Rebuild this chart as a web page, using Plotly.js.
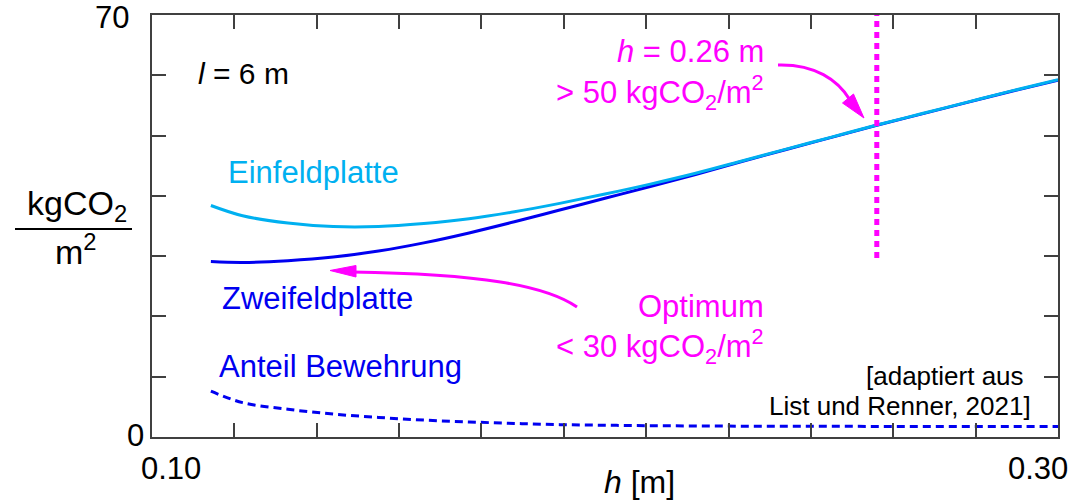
<!DOCTYPE html>
<html>
<head>
<meta charset="utf-8">
<script src="https://cdn.plot.ly/plotly-3.0.1.min.js"></script>
<style>html,body{margin:0;padding:0;background:#fff;}#chart{width:1086px;height:501px;}</style>
</head>
<body>
<div id="chart"></div>
<script>
// ---- data ----
const h = [0.113, 0.12, 0.13, 0.14, 0.15, 0.16, 0.17, 0.18, 0.19, 0.20, 0.21, 0.22, 0.23, 0.24, 0.25, 0.26, 0.27, 0.28, 0.29, 0.30];
const einfeldplatte = [38.4, 36.7, 35.5, 34.9, 34.9, 35.4, 36.2, 37.35, 38.75, 40.3, 41.95, 43.75, 45.75, 47.75, 49.75, 51.75, 53.65, 55.55, 57.45, 59.25];
const zweifeldplatte = [29.1, 28.95, 29.25, 29.85, 30.85, 32.2, 33.85, 35.7, 37.65, 39.6, 41.55, 43.55, 45.65, 47.7, 49.7, 51.7, 53.6, 55.5, 57.4, 59.2];
const anteilBewehrung = [7.6, 5.7, 4.6, 3.8, 3.25, 2.8, 2.5, 2.25, 2.05, 1.95, 1.88, 1.83, 1.8, 1.78, 1.77, 1.76, 1.75, 1.75, 1.75, 1.75];
const markerH = [0.26, 0.26];
const markerY = [29.7, 70];
const xRange = [0.10, 0.30];
const yRange = [0, 70];
const xTickIntervals = 11;
const yTickStep = 10;
const xTickText = ["0.10", "0.30"];
const yTickText = ["0", "70"];

// ---- layout helpers (pixel -> paper) ----
const W = 1086, H = 501, L = 152, R = 1058, T = 15, B = 437;
const px = v => (v - L) / (R - L);
const py = v => (B - v) / (B - T);

const xTicks = [];
for (let k = 1; k < xTickIntervals; k++) xTicks.push(xRange[0] + k * (xRange[1] - xRange[0]) / xTickIntervals);
const yTicks = [];
for (let v = yRange[0]; v <= yRange[1]; v += yTickStep) yTicks.push(v);

const FONT = "Liberation Sans, Arial, sans-serif";
const MAG = "#FF00FF", LBLUE = "#00B0F0", DBLUE = "#0000F0";

const traces = [
  {x: h, y: zweifeldplatte, mode: "lines", line: {color: DBLUE, width: 3, shape: "spline"}},
  {x: h, y: einfeldplatte, mode: "lines", line: {color: LBLUE, width: 3, shape: "spline"}},
  {x: h, y: anteilBewehrung, mode: "lines", line: {color: DBLUE, width: 3, dash: "8px,5px", shape: "spline"}},
  {x: markerH, y: markerY, mode: "lines", line: {color: MAG, width: 5, dash: "6px,5px"}, cliponaxis: false}
];

function ann(text, x, y, size, color, xanchor, yanchor) {
  return {text: text, xref: "paper", yref: "paper", x: px(x), y: py(y), showarrow: false,
    xanchor: xanchor || "left", yanchor: yanchor || "middle", borderpad: 0, borderwidth: 0,
    font: {family: FONT, size: size, color: color || "#000"}};
}

const annotations = [
  ann(yTickText[1], 129, 17, 31, "#000", "right"),
  ann(yTickText[0], 144, 435, 31, "#000", "right"),
  ann(xTickText[0], 171, 468, 31, "#000", "center"),
  ann(xTickText[1], 1038, 468, 31, "#000", "center"),
  ann("<i>h</i> [m]", 639, 482, 32, "#000", "center"),
  ann("kgCO<sub>2</sub>", 77, 206, 34, "#000", "center"),
  ann("m<sup>2</sup>", 76, 250, 34, "#000", "center"),
  ann("<i>l</i> = 6 m", 198, 74, 30, "#000", "left"),
  ann("Einfeldplatte", 228, 172, 31, LBLUE, "left"),
  ann("Zweifeldplatte", 222, 298, 31, DBLUE, "left"),
  ann("Anteil Bewehrung", 219, 366, 31, DBLUE, "left"),
  ann("<i>h</i> = 0.26 m", 764, 52, 31, MAG, "right"),
  ann("&gt; 50 kgCO<sub>2</sub>/m<sup>2</sup>", 764, 92, 31, MAG, "right"),
  ann("Optimum", 764, 306, 31, MAG, "right"),
  ann("&lt; 30 kgCO<sub>2</sub>/m<sup>2</sup>", 764, 346, 31, MAG, "right"),
  ann("[adaptiert aus", 1024, 376, 26, "#000", "right"),
  ann("List und Renner, 2021]", 1031, 406, 26, "#000", "right")
];

function pathPx(cmds) {
  return cmds.map(c => typeof c === "string" ? c : px(c[0]).toFixed(5) + "," + py(c[1]).toFixed(5)).join(" ");
}

const shapes = [
  // fraction bar of the y label
  {type: "line", xref: "paper", yref: "paper", x0: px(15), x1: px(132), y0: py(229), y1: py(229), line: {color: "#000", width: 2}},
  // curved arrow 1
  {type: "path", xref: "paper", yref: "paper", path: pathPx(["M", [778, 65], "C", [815, 64], [838, 80], [850, 100]]), line: {color: MAG, width: 3}},
  {type: "path", xref: "paper", yref: "paper", path: pathPx(["M", [864, 118], "L", [842.5, 103], "L", [853.5, 94], "Z"]), fillcolor: MAG, line: {color: MAG, width: 1}},
  // curved arrow 2
  {type: "path", xref: "paper", yref: "paper", path: pathPx(["M", [577, 307], "C", [545, 285], [480, 274], [352, 272]]), line: {color: MAG, width: 3}},
  {type: "path", xref: "paper", yref: "paper", path: pathPx(["M", [330, 270.5], "L", [356, 265.5], "L", [356, 277], "Z"]), fillcolor: MAG, line: {color: MAG, width: 1}}
];

const axisCommon = {showgrid: false, zeroline: false, showline: true, linecolor: "#404040", linewidth: 2,
  ticks: "inside", ticklen: 14, tickwidth: 2, tickcolor: "#404040", mirror: "ticks", showticklabels: false};

const layout = {
  width: W, height: H,
  margin: {l: L, r: W - R, t: T, b: H - B, pad: 0},
  paper_bgcolor: "#fff", plot_bgcolor: "#fff",
  showlegend: false,
  font: {family: FONT},
  xaxis: Object.assign({}, axisCommon, {range: xRange, tickmode: "array", tickvals: xTicks}),
  yaxis: Object.assign({}, axisCommon, {range: yRange, tickmode: "array", tickvals: yTicks}),
  annotations: annotations,
  shapes: shapes
};

Plotly.newPlot("chart", traces, layout, {staticPlot: true, displayModeBar: false});
</script>
</body>
</html>
